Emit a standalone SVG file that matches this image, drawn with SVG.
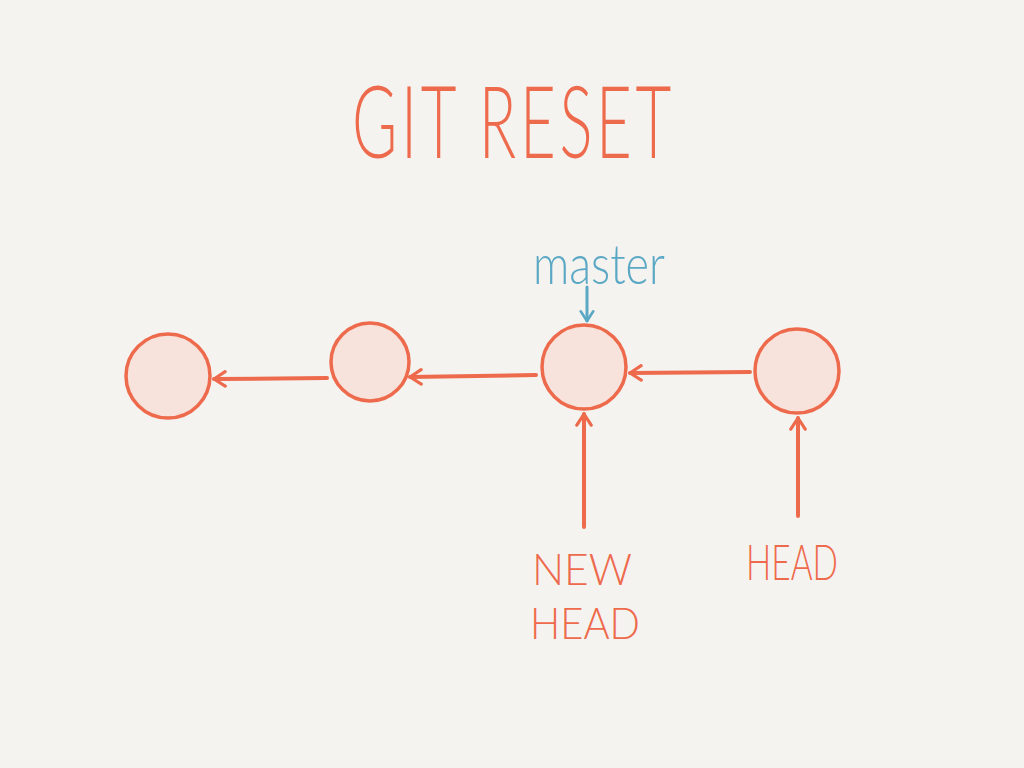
<svg xmlns="http://www.w3.org/2000/svg" width="1024" height="768" viewBox="0 0 1024 768">
<defs>
<style>
.n{fill:#F7E3DB;stroke:#EE6A4C;stroke-width:3.5}
.c{stroke:#EE6A4C;stroke-width:4;stroke-linecap:round;fill:none}
.t{font-family:Lato,"Open Sans",sans-serif;font-weight:300;fill:#EE6A4C}
.b{font-family:Lato,"Open Sans",sans-serif;font-weight:300;fill:#5BA8C4}
</style>
<marker id="ah" viewBox="0 0 12 12" refX="11" refY="6" markerWidth="4.8" markerHeight="4.8" orient="auto" markerUnits="strokeWidth">
<path d="M4,1.5 L11,6 L4,10.5" fill="none" stroke="#EE6A4C" stroke-width="2" stroke-linecap="round" stroke-linejoin="round"/>
</marker>
<marker id="ahb" viewBox="0 0 12 12" refX="11" refY="6" markerWidth="5.5" markerHeight="5.5" orient="auto" markerUnits="strokeWidth">
<path d="M4,1.5 L11,6 L4,10.5" fill="none" stroke="#5BA8C4" stroke-width="2" stroke-linecap="round" stroke-linejoin="round"/>
</marker>
</defs>
<rect width="1024" height="768" fill="#F5F3F0"/>
<g id="title">
<text class="t" x="352" y="158" font-size="100" textLength="323" lengthAdjust="spacingAndGlyphs" letter-spacing="6">GIT RESET</text>
</g>
<g id="connectors">
<line class="c" x1="327" y1="378" x2="214" y2="379" marker-end="url(#ah)"/>
<line class="c" x1="536" y1="375" x2="410" y2="377" stroke-width="4.5" marker-end="url(#ah)"/>
<line class="c" x1="750" y1="372" x2="630" y2="373" stroke-width="4.5" marker-end="url(#ah)"/>
<line class="c" x1="584" y1="527" x2="584" y2="414" marker-end="url(#ah)"/>
<line class="c" x1="798" y1="516" x2="798" y2="418" marker-end="url(#ah)"/>
<line x1="587" y1="287" x2="587" y2="321" stroke="#5BA8C4" stroke-width="3" stroke-linecap="round" marker-end="url(#ahb)"/>
</g>
<g id="c1"><circle class="n" cx="168" cy="376" r="42"/></g>
<g id="c2"><circle class="n" cx="370" cy="362" r="39"/></g>
<g id="c3"><circle class="n" cx="584" cy="367" r="42"/></g>
<g id="c4"><circle class="n" cx="797" cy="371" r="42"/></g>
<g id="master"><text class="b" x="533" y="284" font-size="56" textLength="132" lengthAdjust="spacingAndGlyphs">master</text></g>
<g id="newhead">
<text class="t" x="532" y="585" font-size="44" textLength="100" lengthAdjust="spacingAndGlyphs">NEW</text>
<text class="t" x="530" y="639" font-size="44" textLength="110" lengthAdjust="spacingAndGlyphs">HEAD</text>
</g>
<g id="head"><text class="t" x="746" y="580" font-size="50" textLength="92" lengthAdjust="spacingAndGlyphs">HEAD</text></g>
</svg>
